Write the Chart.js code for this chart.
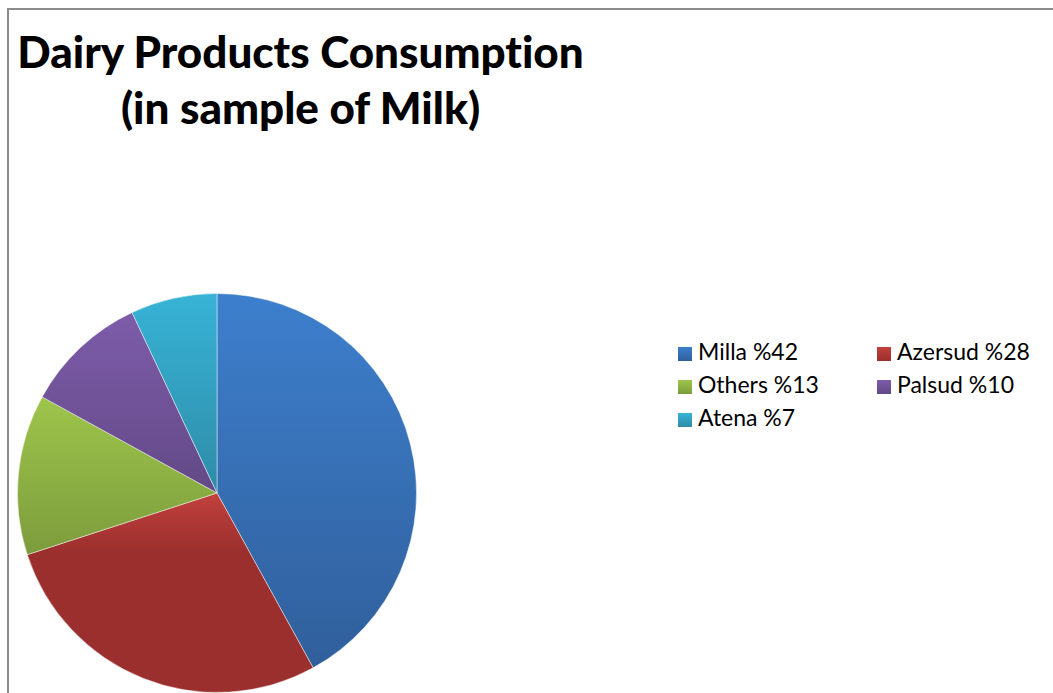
<!DOCTYPE html>
<html>
<head>
  <title>Dairy Products Consumption</title>
  <script src="https://cdn.jsdelivr.net/npm/chart.js@4.4.0/dist/chart.umd.min.js"></script>
  <style>
    html, body {
      margin: 0;
      padding: 0;
      background: white;
      overflow: hidden;
      width: 1053px;
      height: 693px;
    }
    .frame {
      position: absolute;
      left: 7px;
      top: 8px;
      width: 1060px;
      height: 700px;
      border: 2px solid #8c8c8c;
      box-sizing: border-box;
    }
    h1 {
      position: absolute;
      left: 0;
      top: 23px;
      width: 601px;
      margin: 0;
      font-family: Lato, sans-serif;
      font-weight: 900;
      font-size: 44px;
      line-height: 56px;
      text-align: center;
      color: #000;
      font-variant-ligatures: none;
    }
    .chart-container {
      position: absolute;
      left: 0;
      top: 0;
      width: 434px;
      height: 693px;
    }
    #legend {
      position: absolute;
      left: 678px;
      top: 335px;
      width: 380px;
      font-family: Lato, sans-serif;
      font-size: 23px;
      color: #000;
    }
    .item {
      position: absolute;
      white-space: nowrap;
      line-height: 33px;
    }
    .box {
      display: inline-block;
      width: 14px;
      height: 14px;
      margin-right: 6px;
      vertical-align: -1px;
    }
  </style>
</head>
<body>
  <div class="frame"></div>
  <h1>Dairy Products Consumption<br>(in sample of Milk)</h1>
  <div class="chart-container">
    <canvas id="pieChart"></canvas>
  </div>
  <div id="legend"></div>

  <script>
    const labels = ['Milla %42', 'Azersud %28', 'Others %13', 'Palsud %10', 'Atena %7'];
    const values = [42, 28, 13, 10, 7];
    // light (top) and dark (bottom) tone of every slice
    const lightColors = ['#3d7fcd', '#c2413d', '#9ec54b', '#7d5caa', '#37b3d6'];
    const darkColors = ['#305f9b', '#9a2f2d', '#7c9c3c', '#634987', '#2e8ca8'];
    // where the dark tone is reached (share of the slice height)
    const darkStop = [1, 0.3, 1, 1, 1];

    const total = values.reduce((a, b) => a + b, 0);

    // vertical gradient over the slice's own extent
    function sliceFill(context) {
      const i = context.dataIndex;
      const chart = context.chart;
      const area = chart.chartArea;
      if (!area) return lightColors[i];
      const cx = (area.left + area.right) / 2;
      const cy = (area.top + area.bottom) / 2;
      const r = Math.min(area.right - area.left, area.bottom - area.top) / 2;
      let before = 0;
      for (let k = 0; k < i; k++) before += values[k];
      const a0 = -Math.PI / 2 + before / total * 2 * Math.PI;
      const a1 = a0 + values[i] / total * 2 * Math.PI;
      const ys = [cy, cy + r * Math.sin(a0), cy + r * Math.sin(a1)];
      if (a0 <= Math.PI / 2 && a1 >= Math.PI / 2) ys.push(cy + r);
      if (a0 <= -Math.PI / 2 + 1e-9) ys.push(cy - r);
      const y0 = Math.min(...ys);
      const y1 = Math.max(...ys);
      const g = chart.ctx.createLinearGradient(0, y0, 0, y1);
      g.addColorStop(0, lightColors[i]);
      g.addColorStop(darkStop[i], darkColors[i]);
      if (darkStop[i] < 1) g.addColorStop(1, darkColors[i]);
      return g;
    }

    const ctx = document.getElementById('pieChart').getContext('2d');
    new Chart(ctx, {
      type: 'pie',
      data: {
        labels: labels,
        datasets: [{
          data: values,
          backgroundColor: sliceFill,
          borderColor: 'rgba(255,255,255,0.45)',
          borderWidth: 1
        }]
      },
      options: {
        responsive: true,
        maintainAspectRatio: false,
        animation: false,
        layout: {
          padding: { left: 17, right: 17, top: 293, bottom: 0 }
        },
        plugins: {
          legend: { display: false },
          title: { display: false },
          tooltip: { enabled: false }
        }
      }
    });

    // legend in two columns, like the office chart
    const legend = document.getElementById('legend');
    labels.forEach((lab, i) => {
      const el = document.createElement('div');
      el.className = 'item';
      el.style.left = (i % 2) * 199 + 'px';
      el.style.top = Math.floor(i / 2) * 33 + 'px';
      el.innerHTML = '<span class="box" style="background:linear-gradient(' +
        lightColors[i] + ',' + darkColors[i] + ')"></span>' + lab;
      legend.appendChild(el);
    });
  </script>
</body>
</html>
